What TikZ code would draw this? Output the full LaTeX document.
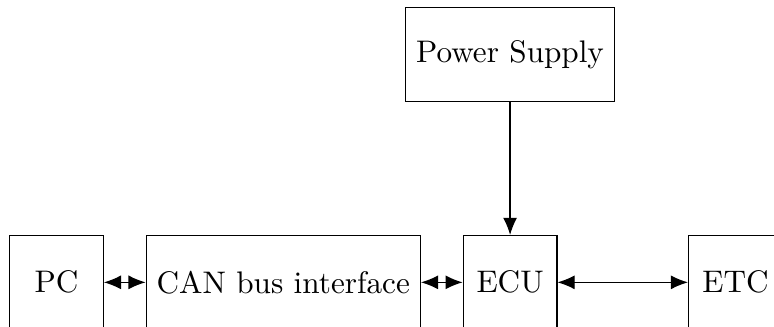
\documentclass[tikz,border=0pt]{standalone}
\usepackage{amsmath}
\usepackage{tikz}
\usetikzlibrary{shapes, arrows.meta, positioning}
\tikzstyle{block}=[draw,rectangle,minimum height=3em,minimum width=3em]

\begin{document}
\begin{tikzpicture}[>={Latex[length=5.5pt,width=4.5pt]}]
    \useasboundingbox (-18.1pt,-14.3pt) rectangle (230pt,90.5pt);
    \node[block] (pc) {PC};
    \node[block, right=0.47cm of pc] (can) {CAN bus interface};
    \node[block, right=0.47cm of can] (ecu) {ECU};
    \node[block, right=1.47cm of ecu] (etc) {ETC};
    \node[block, above=1.5cm of ecu] (ps) {Power Supply};
    \draw[<->] (pc) -- (can);
    \draw[<->] (can) -- (ecu);
    \draw[<->] (ecu) -- (etc);
    \draw[->] (ps) -- (ecu);
\end{tikzpicture}
\end{document}
